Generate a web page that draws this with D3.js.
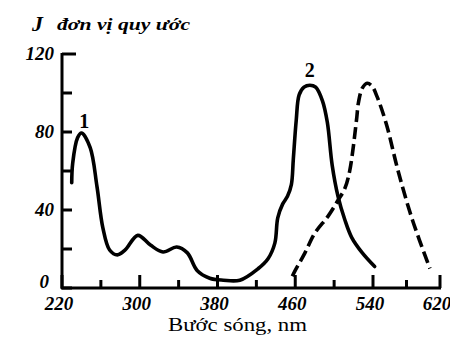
<!DOCTYPE html>
<html>
  <head>
    <meta http-equiv="content-type" content="text/html; charset=utf-8" />
    <title>Spectrum</title>
    <script type="text/javascript" src="https://cdn.jsdelivr.net/npm/d3@7"></script>
    <style type="text/css">
      body { margin: 0; background: #fff; }
      svg { display: block; }
    </style>
  </head>
  <body>
    <script type="text/javascript">
// values (wavelength nm / relative intensity)
      var solidNm  = [230,231,236,240,249,256,262,269,277,285,298,311,324,338,349,359,372,386,403,422,
                      432,439,442,447,452,456,458,461,464,469,475,481,488,493,498,504,511,518,529,542];
      var solidVal = [54,64,77,79.5,72,52,31,19.5,17,19.5,27,22,18.5,21,18,9,5,4,4,10,
                      15,23,36,43,47,53,66,86,99,103,104,103,96,85,63,47,35,26,18,11];

      var dashNm  = [457,460,470,480,494,504,511,516,523,525,529,534,539,545,556,570,587,608];
      var dashVal = [6,9,18,28,37,45,51,60,86,95,102.5,105,103.5,98,84,60,35,10];

      var xMajor = [220,300,380,460,540,620];
      var xMinor = [260,340,420,500,580];
      var yMajor = [0,40,80,120];
      var yMinor = [20,60,100];

      var curveLabels = [{t: "1", nm: 243, v: 82}, {t: "2", nm: 475, v: 108}];

      var w = 450, h = 337;
      var svg = d3.select("body").append("svg").attr("width", w).attr("height", h);

// the printed axis is a bit squeezed after 540, so use a piecewise scale
      var x = d3.scaleLinear().domain([220, 540, 620]).range([62, 373, 440]);
      var y = d3.scaleLinear().domain([0, 120]).range([288, 54]);

      var serif = "'Liberation Serif', 'DejaVu Serif', serif";

      // axis lines
      svg.append("line")
        .attr("x1", x(220) - 1).attr("x2", x(620) + 1)
        .attr("y1", y(0)).attr("y2", y(0))
        .attr("stroke", "#000").attr("stroke-width", 3);
      svg.append("line")
        .attr("x1", x(220)).attr("x2", x(220))
        .attr("y1", y(0) + 1).attr("y2", y(120) - 1)
        .attr("stroke", "#000").attr("stroke-width", 3);

      // x ticks point up into the plot
      svg.selectAll("line.xt").data(xMajor.concat(xMinor)).enter()
        .append("line").attr("class", "xt")
        .attr("x1", function(d) { return x(d); }).attr("x2", function(d) { return x(d); })
        .attr("y1", y(0))
        .attr("y2", function(d) { return y(0) - (xMajor.indexOf(d) >= 0 ? 13 : 8); })
        .attr("stroke", "#000").attr("stroke-width", 3);

      svg.selectAll("text.xl").data(xMajor).enter()
        .append("text").attr("class", "xl")
        .attr("x", function(d) { return x(d) - 3; })
        .attr("y", y(0) + 22)
        .attr("text-anchor", "middle")
        .attr("font-family", serif).attr("font-size", 19)
        .attr("font-weight", "bold").attr("font-style", "italic")
        .text(function(d) { return d; });

      // y ticks point right
      svg.selectAll("line.yt").data(yMajor.concat(yMinor)).enter()
        .append("line").attr("class", "yt")
        .attr("y1", function(d) { return y(d); }).attr("y2", function(d) { return y(d); })
        .attr("x1", x(220))
        .attr("x2", function(d) { return x(220) + (d === 120 ? 14 : 10); })
        .attr("stroke", "#000").attr("stroke-width", 3);

      svg.selectAll("text.yl").data(yMajor).enter()
        .append("text").attr("class", "yl")
        .attr("x", function(d) { return d === 0 ? x(220) - 13 : x(220) - 8; })
        .attr("y", function(d) { return d === 0 ? y(d) : y(d) + 6; })
        .attr("text-anchor", "end")
        .attr("font-family", serif).attr("font-size", 19)
        .attr("font-weight", "bold").attr("font-style", "italic")
        .text(function(d) { return d; });

      var line = d3.line()
        .x(function(d) { return x(d[0]); })
        .y(function(d) { return y(d[1]); })
        .curve(d3.curveCatmullRom.alpha(0.5));

      var solid = d3.zip(solidNm, solidVal);
      var dashed = d3.zip(dashNm, dashVal);

      svg.append("path").datum(solid)
        .attr("d", line)
        .attr("fill", "none").attr("stroke", "#000")
        .attr("stroke-width", 3.6).attr("stroke-linejoin", "round").attr("stroke-linecap", "round");

      svg.append("path").datum(dashed)
        .attr("d", line)
        .attr("fill", "none").attr("stroke", "#000")
        .attr("stroke-width", 3.6).attr("stroke-dasharray", "12,5");

      svg.selectAll("text.clabel").data(curveLabels).enter()
        .append("text").attr("class", "clabel")
        .attr("x", function(d) { return x(d.nm); })
        .attr("y", function(d) { return y(d.v); })
        .attr("text-anchor", "middle")
        .attr("font-family", serif).attr("font-size", 20).attr("font-weight", "bold")
        .text(function(d) { return d.t; });

      // y title
      svg.append("text")
        .attr("x", 32).attr("y", 31)
        .attr("font-family", serif).attr("font-size", 22)
        .attr("font-style", "italic").attr("font-weight", "bold")
        .text("J");
      svg.append("text")
        .attr("x", 57).attr("y", 30)
        .attr("font-family", serif).attr("font-size", 16)
        .attr("font-style", "italic").attr("font-weight", "bold")
        .attr("textLength", 133).attr("lengthAdjust", "spacingAndGlyphs")
        .text("đơn vị quy ước");

      // x title
      svg.append("text")
        .attr("x", 168).attr("y", 331)
        .attr("font-family", serif).attr("font-size", 18)
        .attr("textLength", 139).attr("lengthAdjust", "spacingAndGlyphs")
        .text("Bước sóng, nm");
    </script>
  </body>
</html>
